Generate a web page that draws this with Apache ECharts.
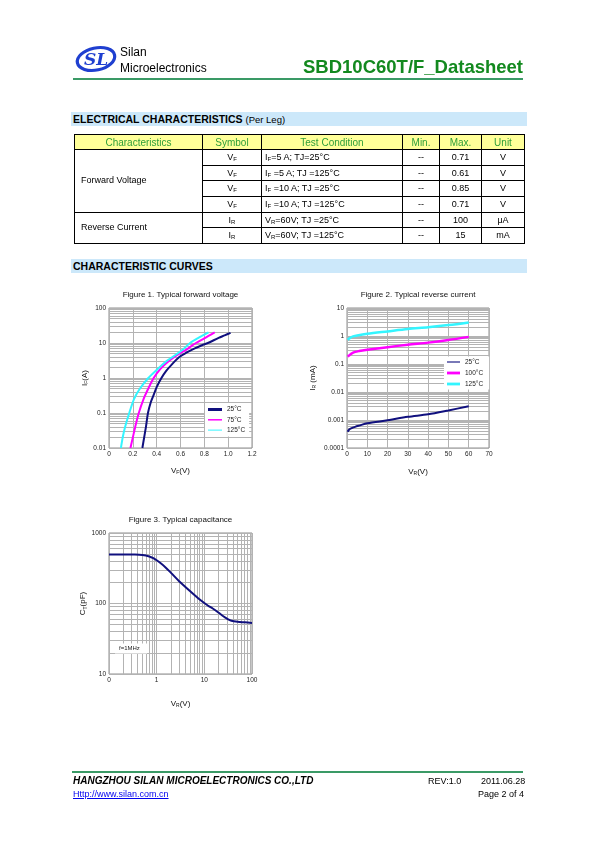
<!DOCTYPE html>
<html><head><meta charset="utf-8">
<script src="https://cdn.jsdelivr.net/npm/echarts@6/dist/echarts.min.js"></script>
<style>
html,body{margin:0;padding:0;background:#fff;}
body{width:595px;height:842px;position:relative;overflow:hidden;font-family:"Liberation Sans",Arial,sans-serif;color:#000;}
#chart{position:absolute;left:0;top:0;width:595px;height:842px;z-index:0;}
.abs{position:absolute;white-space:nowrap;z-index:2;}
.bar{position:absolute;left:71px;width:456px;height:14px;background:#cce8fa;z-index:2;font-size:10.5px;font-weight:bold;line-height:15px;padding-left:2px;box-sizing:border-box;white-space:nowrap;}
.bar span{font-weight:normal;font-size:9.5px;}
#tbl{position:absolute;left:74px;top:134px;width:450px;border-collapse:collapse;table-layout:fixed;font-size:9px;z-index:2;}
#tbl td{border:1px solid #000;padding:0;text-align:center;height:14.7px;line-height:13px;white-space:nowrap;overflow:hidden;}
#tbl tr.hd td{background:#ffff99;color:#2f9e3a;font-size:10px;height:14px;}
#tbl td.l{text-align:left;padding-left:3px;}
#tbl td.c1{text-align:left;padding-left:6px;}
#tbl sub{font-size:6px;vertical-align:-1px;line-height:0;}
</style>
</head>
<body>
<div id="chart"></div>

<svg class="abs" style="left:74px;top:43px" width="46" height="32" viewBox="0 0 46 32">
  <ellipse cx="22" cy="16" rx="19" ry="11" fill="none" stroke="#1f3fd0" stroke-width="3.2" transform="rotate(-12 22 16)"/>
  <text x="22" y="22" text-anchor="middle" font-family="DejaVu Serif, serif" font-style="italic" font-weight="bold" font-size="17" fill="#1f3fd0">SL</text>
</svg>
<div class="abs" style="left:120px;top:45px;font-size:12px;line-height:14px;">Silan</div>
<div class="abs" style="left:120px;top:61px;font-size:12px;line-height:14px;">Microelectronics</div>
<div class="abs" style="left:303px;top:56px;font-size:18.5px;font-weight:bold;color:#13891f;line-height:22px;">SBD10C60T/F_Datasheet</div>
<div class="abs" style="left:73px;top:77.5px;width:450px;height:2.5px;background:#3a9a66;"></div>

<div class="bar" style="top:112px;">ELECTRICAL CHARACTERISTICS <span>(Per Leg)</span></div>

<table id="tbl">
<colgroup><col style="width:128px"><col style="width:59px"><col style="width:141px"><col style="width:37px"><col style="width:42px"><col style="width:43px"></colgroup>
<tr class="hd"><td>Characteristics</td><td>Symbol</td><td>Test Condition</td><td>Min.</td><td>Max.</td><td>Unit</td></tr>
<tr><td rowspan="4" class="c1">Forward Voltage</td><td>V<sub>F</sub></td><td class="l">I<sub>F</sub>=5 A; TJ=25°C</td><td>--</td><td>0.71</td><td>V</td></tr>
<tr><td>V<sub>F</sub></td><td class="l">I<sub>F</sub> =5 A; TJ =125°C</td><td>--</td><td>0.61</td><td>V</td></tr>
<tr><td>V<sub>F</sub></td><td class="l">I<sub>F</sub> =10 A; TJ =25°C</td><td>--</td><td>0.85</td><td>V</td></tr>
<tr><td>V<sub>F</sub></td><td class="l">I<sub>F</sub> =10 A; TJ =125°C</td><td>--</td><td>0.71</td><td>V</td></tr>
<tr><td rowspan="2" class="c1">Reverse Current</td><td>I<sub>R</sub></td><td class="l">V<sub>R</sub>=60V; TJ =25°C</td><td>--</td><td>100</td><td>μA</td></tr>
<tr><td>I<sub>R</sub></td><td class="l">V<sub>R</sub>=60V; TJ =125°C</td><td>--</td><td>15</td><td>mA</td></tr>
</table>

<div class="bar" style="top:259px;">CHARACTERISTIC CURVES</div>

<div class="abs" style="left:72px;top:771px;width:451px;height:1.5px;background:#3a9a66;"></div>
<div class="abs" style="left:73px;top:775px;font-size:10px;font-weight:bold;font-style:italic;line-height:12px;">HANGZHOU SILAN MICROELECTRONICS CO.,LTD</div>
<div class="abs" style="left:428px;top:776px;font-size:9px;line-height:11px;">REV:1.0</div>
<div class="abs" style="left:481px;top:776px;font-size:9px;line-height:11px;">2011.06.28</div>
<div class="abs" style="left:73px;top:789px;font-size:9px;line-height:11px;color:#0000ee;text-decoration:underline;">Http://www.silan.com.cn</div>
<div class="abs" style="right:71px;top:789px;font-size:9px;line-height:11px;">Page 2 of 4</div>

<script>
// ---------- Figure 1: typical forward voltage  [VF (V), IF (A)] ----------
const fig1XLabels = ['0', '0.2', '0.4', '0.6', '0.8', '1.0', '1.2'];
const fig1YLabels = ['0.01', '0.1', '1', '10', '100'];
const fig1Names = ['25°C', '75°C', '125°C'];
const fwd25C = [[0.28,0.01],[0.295,0.02],[0.31,0.04],[0.327,0.1],[0.35,0.2],[0.375,0.33],[0.40,0.55],[0.44,1.0],[0.48,1.6],[0.53,2.5],[0.59,4.0],[0.65,5.3],[0.72,7.0],[0.78,8.6],[0.83,10],[0.92,14],[0.97,16.5],[1.02,19.5]];
const fwd75C = [[0.18,0.01],[0.20,0.02],[0.22,0.04],[0.25,0.1],[0.29,0.25],[0.33,0.5],[0.375,1.0],[0.43,1.8],[0.50,3.0],[0.57,4.5],[0.65,6.5],[0.73,10],[0.80,13.5],[0.887,20]];
const fwd125C = [[0.10,0.01],[0.115,0.02],[0.135,0.04],[0.17,0.1],[0.21,0.25],[0.26,0.5],[0.33,1.0],[0.40,1.7],[0.48,3.0],[0.56,4.6],[0.62,6.5],[0.68,10],[0.75,14],[0.835,20]];

// ---------- Figure 2: typical reverse current  [VR (V), IR (mA)] ----------
const fig2XLabels = ['0', '10', '20', '30', '40', '50', '60', '70'];
const fig2YLabels = ['0.0001', '0.001', '0.01', '0.1', '1', '10'];
const fig2Names = ['25°C', '100°C', '125°C'];
const rev25C = [[0.3,0.00038],[1,0.00045],[2,0.0005],[4,0.00057],[6,0.00063],[10,0.00076],[20,0.00098],[30,0.0013],[40,0.0016],[50,0.0022],[60,0.0031]];
const rev100C = [[0.3,0.186],[1,0.2],[2,0.23],[4,0.27],[6,0.29],[10,0.32],[20,0.40],[30,0.49],[40,0.58],[50,0.72],[60,0.93]];
const rev125C = [[0.3,0.74],[1,0.8],[2,0.9],[3,0.97],[5,1.05],[10,1.2],[20,1.46],[30,1.77],[40,2.05],[50,2.45],[60,3.05]];

// ---------- Figure 3: typical capacitance  [VR (V), CT (pF)] ----------
const fig3XLabels = ['0', '1', '10', '100'];
const fig3YLabels = ['10', '100', '1000'];
const capCT = [[0.1,495],[0.2,495],[0.35,494],[0.5,487],[0.7,465],[0.85,440],[1.0,410],[1.2,375],[1.5,330],[2,272],[3,205],[5,150],[8,114],[12,93],[15,85],[20,74],[25,66],[30,61],[37,57],[50,55],[70,54],[100,53]];

const NAVY = '#10107e', MAG = '#ff00ff', CYAN = '#33f5ff';
const GRIDC = '#b3b3b3', FONT = '"Liberation Sans", Arial, sans-serif';

function logMinors(lo, hi) { // minor grid positions 2..9 of each decade (grid, not data)
  const out = [];
  for (let e = lo; e < hi; e++) for (let m = 2; m <= 9; m++) out.push(m * Math.pow(10, e));
  return out;
}
// minor grid lines drawn as segments through the axes (from axis min to axis max)
function minorGrid(xi, vals, from, to, horiz) {
  return {
    type: 'lines', coordinateSystem: 'cartesian2d', xAxisIndex: xi, yAxisIndex: xi,
    silent: true, z: 1, animation: false, polyline: false,
    lineStyle: { color: GRIDC, width: 1, opacity: 1, curveness: 0 },
    emphasis: { disabled: true },
    data: vals.map(v => ({ coords: horiz ? [[from, v], [to, v]] : [[v, from], [v, to]] }))
  };
}
const lab = (arr, idx) => arr[idx] !== undefined ? arr[idx] : '';
const axisLab = { fontSize: 6.5, color: '#222', fontFamily: FONT, margin: 3 };
const split = { show: true, lineStyle: { color: GRIDC, width: 1 } };

function nameRich(main, sub, tail) {
  return '{n|' + main + '}{s|' + sub + '}{n|' + tail + '}';
}
const nameStyle = { fontFamily: FONT, fontSize: 8, color: '#111', rich: { n: { fontSize: 8, fontFamily: FONT, color: '#111' }, s: { fontSize: 5, fontFamily: FONT, color: '#111', padding: [4, 0, 0, 0] } } };
const ICON3 = 'path://M0,0H14V3H0Z', ICON15 = 'path://M0,0H28V3H0Z', ICON1 = 'path://M0,0H42V3H0Z', ICON12 = 'path://M0,0H35V3H0Z';

const chart = echarts.init(document.getElementById('chart'), null, { renderer: 'canvas' });

const option = {
  animation: false,
  backgroundColor: '#fff',
  grid: [
    { left: 109, top: 308, width: 143, height: 140, show: true, borderColor: '#8f8f8f', borderWidth: 1, backgroundColor: 'transparent' },
    { left: 347, top: 308, width: 142, height: 140, show: true, borderColor: '#8f8f8f', borderWidth: 1, backgroundColor: 'transparent' },
    { left: 109, top: 533, width: 143, height: 141, show: true, borderColor: '#8f8f8f', borderWidth: 1, backgroundColor: 'transparent' }
  ],
  xAxis: [
    { gridIndex: 0, type: 'value', min: 0, max: 1.2, interval: 0.2,
      axisLine: { show: false }, axisTick: { show: false }, splitLine: split,
      axisLabel: Object.assign({}, axisLab, { formatter: v => lab(fig1XLabels, Math.round(v / 0.2)) }),
      name: nameRich('V', 'F', '(V)'), nameLocation: 'middle', nameGap: 18, nameTextStyle: nameStyle },
    { gridIndex: 1, type: 'value', min: 0, max: 70, interval: 10,
      axisLine: { show: false }, axisTick: { show: false }, splitLine: split,
      axisLabel: Object.assign({}, axisLab, { formatter: v => lab(fig2XLabels, Math.round(v / 10)) }),
      name: nameRich('V', 'R', '(V)'), nameLocation: 'middle', nameGap: 19, nameTextStyle: nameStyle },
    { gridIndex: 2, type: 'log', logBase: 10, min: 0.1, max: 100,
      axisLine: { show: false }, axisTick: { show: false }, splitLine: split,
      axisLabel: Object.assign({}, axisLab, { formatter: v => lab(fig3XLabels, Math.round(Math.log10(v)) + 1) }),
      name: nameRich('V', 'R', '(V)'), nameLocation: 'middle', nameGap: 25, nameTextStyle: nameStyle }
  ],
  yAxis: [
    { gridIndex: 0, type: 'log', logBase: 10, min: 0.01, max: 100,
      axisLine: { show: false }, axisTick: { show: false }, splitLine: split,
      axisLabel: Object.assign({}, axisLab, { formatter: v => lab(fig1YLabels, Math.round(Math.log10(v)) + 2) }),
      name: nameRich('I', 'F', '(A)'), nameLocation: 'middle', nameGap: 19, nameRotate: 90, nameTextStyle: nameStyle },
    { gridIndex: 1, type: 'log', logBase: 10, min: 0.0001, max: 10,
      axisLine: { show: false }, axisTick: { show: false }, splitLine: split,
      axisLabel: Object.assign({}, axisLab, { formatter: v => lab(fig2YLabels, Math.round(Math.log10(v)) + 4) }),
      name: nameRich('I', 'R', ' (mA)'), nameLocation: 'middle', nameGap: 30, nameRotate: 90, nameTextStyle: nameStyle },
    { gridIndex: 2, type: 'log', logBase: 10, min: 10, max: 1000,
      axisLine: { show: false }, axisTick: { show: false }, splitLine: split,
      axisLabel: Object.assign({}, axisLab, { formatter: v => lab(fig3YLabels, Math.round(Math.log10(v)) - 1) }),
      name: nameRich('C', 'T', '(pF)'), nameLocation: 'middle', nameGap: 20, nameRotate: 90, nameTextStyle: nameStyle }
  ],
  legend: [
    { data: [
        { name: 'f1a', icon: ICON3 },
        { name: 'f1b', icon: ICON15 },
        { name: 'f1c', icon: ICON1 }],
      formatter: n => ({ f1a: fig1Names[0], f1b: fig1Names[1], f1c: fig1Names[2] })[n],
      orient: 'vertical', left: 205, top: 403, padding: [3, 4, 3, 3], itemWidth: 14, itemHeight: 6, itemGap: 3.3,
      symbolKeepAspect: true,
      backgroundColor: '#fff', z: 10, selectedMode: false,
      textStyle: { fontSize: 6.5, fontFamily: FONT, color: '#222' } },
    { data: [
        { name: 'f2a', icon: ICON12 },
        { name: 'f2b', icon: ICON3 },
        { name: 'f2c', icon: ICON3 }],
      formatter: n => ({ f2a: fig2Names[0], f2b: fig2Names[1], f2c: fig2Names[2] })[n],
      orient: 'vertical', left: 444, top: 356.5, padding: [2, 6, 2, 3], itemWidth: 13, itemHeight: 6, itemGap: 4,
      symbolKeepAspect: true,
      backgroundColor: '#fff', z: 10, selectedMode: false,
      textStyle: { fontSize: 6.5, fontFamily: FONT, color: '#222' } }
  ],
  series: [
    minorGrid(0, logMinors(-2, 2), 0, 1.2, true),
    minorGrid(1, logMinors(-4, 1), 0, 70, true),
    minorGrid(2, logMinors(-1, 2), 10, 1000, false),
    minorGrid(2, logMinors(1, 3), 0.1, 100, true),

    { name: 'f1a', type: 'line', xAxisIndex: 0, yAxisIndex: 0, data: fwd25C, symbol: 'none', smooth: 0.3, z: 3,
      lineStyle: { color: NAVY, width: 2 }, itemStyle: { color: NAVY } },
    { name: 'f1b', type: 'line', xAxisIndex: 0, yAxisIndex: 0, data: fwd75C, symbol: 'none', smooth: 0.3, z: 3,
      lineStyle: { color: MAG, width: 2 }, itemStyle: { color: MAG } },
    { name: 'f1c', type: 'line', xAxisIndex: 0, yAxisIndex: 0, data: fwd125C, symbol: 'none', smooth: 0.3, z: 3,
      lineStyle: { color: CYAN, width: 2 }, itemStyle: { color: CYAN } },

    { name: 'f2a', type: 'line', xAxisIndex: 1, yAxisIndex: 1, data: rev25C, symbol: 'none', smooth: 0.3, z: 3,
      lineStyle: { color: NAVY, width: 2 }, itemStyle: { color: NAVY } },
    { name: 'f2b', type: 'line', xAxisIndex: 1, yAxisIndex: 1, data: rev100C, symbol: 'none', smooth: 0.3, z: 3,
      lineStyle: { color: MAG, width: 2.5 }, itemStyle: { color: MAG } },
    { name: 'f2c', type: 'line', xAxisIndex: 1, yAxisIndex: 1, data: rev125C, symbol: 'none', smooth: 0.3, z: 3,
      lineStyle: { color: CYAN, width: 2.5 }, itemStyle: { color: CYAN } },

    { name: 'f3', type: 'line', xAxisIndex: 2, yAxisIndex: 2, data: capCT, symbol: 'none', smooth: 0.3, z: 3,
      lineStyle: { color: NAVY, width: 2 }, itemStyle: { color: NAVY } }
  ],
  graphic: [
    { type: 'text', x: 180.5, y: 294.5, z: 20, style: { text: 'Figure 1. Typical forward voltage', fontSize: 8, fontFamily: FONT, fill: '#111', align: 'center', verticalAlign: 'middle' } },
    { type: 'text', x: 418, y: 294.5, z: 20, style: { text: 'Figure 2. Typical reverse current', fontSize: 8, fontFamily: FONT, fill: '#111', align: 'center', verticalAlign: 'middle' } },
    { type: 'text', x: 180.5, y: 520, z: 20, style: { text: 'Figure 3. Typical capacitance', fontSize: 8, fontFamily: FONT, fill: '#111', align: 'center', verticalAlign: 'middle' } },
    { type: 'rect', z: 20, shape: { x: 115, y: 643.5, width: 32, height: 10 }, style: { fill: '#fff' } },
    { type: 'text', x: 119, y: 648.5, z: 21, style: { text: 'f=1MHz', fontSize: 6, fontFamily: FONT, fill: '#222', align: 'left', verticalAlign: 'middle' } }
  ]
};
chart.setOption(option);
</script>
</body></html>
